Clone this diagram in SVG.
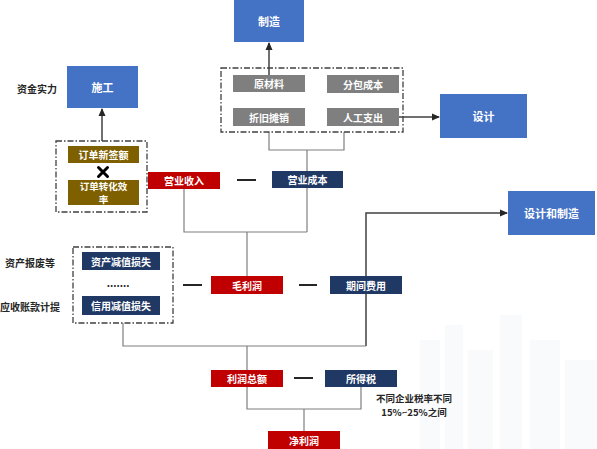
<svg xmlns="http://www.w3.org/2000/svg" width="597" height="449" viewBox="0 0 597 449">
<defs>
<marker id="arr" markerWidth="8" markerHeight="8" refX="7" refY="4" orient="auto" markerUnits="userSpaceOnUse">
<path d="M0,0.5 L8,4 L0,7.5 Z" fill="#262626"/>
</marker>
<style>
text{font-family:"Noto Sans CJK SC","Noto Sans",sans-serif;font-weight:bold;}
.lbl{fill:#ffffff;font-size:10px;text-anchor:middle;dominant-baseline:central;}
.sm{fill:#ffffff;font-size:9.5px;text-anchor:middle;dominant-baseline:central;}
.big{fill:#ffffff;font-size:11px;text-anchor:middle;dominant-baseline:central;}
.side{fill:#262626;font-size:10px;dominant-baseline:central;}
.note{fill:#262626;font-size:9.5px;text-anchor:middle;dominant-baseline:central;}
.blue{fill:#4472C4;}
.red{fill:#C00000;}
.navy{fill:#1F3864;}
.gray{fill:#7F7F7F;}
.gold{fill:#7F6000;}
.dash{fill:none;stroke:#404040;stroke-width:1.3;stroke-dasharray:6 2 1.5 2;}
.ln{fill:none;stroke:#7F7F7F;stroke-width:1.2;}
.ar{fill:none;stroke:#404040;stroke-width:1.5;marker-end:url(#arr);}
.minus{stroke:#262626;stroke-width:2;}
.bg{fill:#EEF1F5;}
</style>
</defs>
<g id="background" opacity="0.35">
<rect class="bg" x="420" y="340" width="20" height="109"/>
<rect class="bg" x="445" y="325" width="18" height="124"/>
<rect class="bg" x="468" y="350" width="25" height="99"/>
<rect class="bg" x="500" y="315" width="22" height="134"/>
<rect class="bg" x="530" y="340" width="30" height="109"/>
<rect class="bg" x="565" y="360" width="32" height="89"/>
</g>
<g id="connectors">
<path class="ar" d="M102,141 L102,109"/>
<path class="ar" d="M269,75 L269,43"/>
<path class="ar" d="M399,117 L439,117"/>
<path class="ln" d="M269,132 L269,150 L344,150 L344,132"/>
<path class="ln" d="M307,150 L307,232"/>
<path class="ln" d="M184,189 L184,232 L307,232"/>
<path class="ln" d="M247,232 L247,276"/>
<path class="ar" d="M366,346 L366,213 L507,213"/>
<path class="ln" d="M123,323 L123,346 L366,346"/>
<path class="ln" d="M247,346 L247,370"/>
<path class="ln" d="M247,387 L247,409 L361,409 L361,387"/>
<path class="ln" d="M304,409 L304,431"/>
<line class="minus" x1="237" y1="180" x2="256" y2="180"/>
<line class="minus" x1="183" y1="285" x2="202" y2="285"/>
<line class="minus" x1="299" y1="285" x2="317" y2="285"/>
<line class="minus" x1="294" y1="378" x2="313" y2="378"/>
</g>
<g id="zhizao"><rect class="blue" x="234" y="0" width="70" height="42"/><text class="big" x="269" y="21">制造</text></g>
<g id="shigong"><rect class="blue" x="67" y="66" width="71" height="42"/><text class="big" x="102.5" y="87">施工</text></g>
<g id="zijin"><text class="side" x="17" y="88">资金实力</text></g>
<g id="sheji"><rect class="blue" x="440" y="94" width="87" height="44"/><text class="big" x="483.5" y="116">设计</text></g>
<g id="shejizhizao"><rect class="blue" x="508" y="191" width="87" height="44"/><text class="big" x="551.5" y="213">设计和制造</text></g>
<g id="costgroup">
<rect class="dash" x="221" y="68" width="182" height="64"/>
<g id="yuancailiao"><rect class="gray" x="233" y="75" width="72" height="17"/><text class="lbl" x="269" y="83.5">原材料</text></g>
<g id="fenbao"><rect class="gray" x="327" y="75" width="72" height="18"/><text class="lbl" x="363" y="84">分包成本</text></g>
<g id="zhejiu"><rect class="gray" x="233" y="108" width="72" height="18"/><text class="lbl" x="269" y="117">折旧摊销</text></g>
<g id="rengong"><rect class="gray" x="327" y="108" width="72" height="18"/><text class="lbl" x="363" y="117">人工支出</text></g>
</g>
<g id="ordergroup">
<rect class="dash" x="56" y="141" width="91" height="71"/>
<g id="xinqian"><rect class="gold" x="68" y="146" width="71" height="17"/><text class="lbl" x="103.5" y="154.5">订单新签额</text></g>
<g id="times"><path d="M98.5,167.5 L107.5,176.5 M107.5,167.5 L98.5,176.5" stroke="#000" stroke-width="3" stroke-linecap="round"/></g>
<g id="zhuanhua"><rect class="gold" x="68" y="180" width="71" height="25"/><text class="sm" x="103.5" y="186.2">订单转化效</text><text class="sm" x="103.5" y="199.2">率</text></g>
</g>
<g id="yingyeshouru"><rect class="red" x="148" y="172" width="72" height="17"/><text class="lbl" x="184" y="180.5">营业收入</text></g>
<g id="yingyechengben"><rect class="navy" x="272" y="171" width="71" height="17"/><text class="lbl" x="307.5" y="179.5">营业成本</text></g>
<g id="impairgroup">
<rect class="dash" x="73" y="247" width="100" height="76"/>
<g id="zichanjianzhi"><rect class="navy" x="82" y="252" width="78" height="18"/><text class="lbl" x="121" y="261">资产减值损失</text></g>
<text x="118" y="282" style="font-size:10px;fill:#262626;text-anchor:middle;dominant-baseline:central;">.......</text>
<g id="xinyongjianzhi"><rect class="navy" x="82" y="296" width="78" height="19"/><text class="lbl" x="121" y="305.5">信用减值损失</text></g>
</g>
<g id="baofei"><text class="side" x="5" y="262">资产报废等</text></g>
<g id="yingshou"><text class="side" x="0" y="306">应收账款计提</text></g>
<g id="maolirun"><rect class="red" x="211" y="276" width="72" height="18"/><text class="lbl" x="247" y="285">毛利润</text></g>
<g id="qijianfeiyong"><rect class="navy" x="330" y="276" width="72" height="18"/><text class="lbl" x="366" y="285">期间费用</text></g>
<g id="lirunzonge"><rect class="red" x="211" y="370" width="72" height="17"/><text class="lbl" x="247" y="378.5">利润总额</text></g>
<g id="suodeshui"><rect class="navy" x="325" y="370" width="72" height="17"/><text class="lbl" x="361" y="378.5">所得税</text></g>
<g id="note"><text class="note" x="414" y="398">不同企业税率不同</text><text class="note" x="414" y="411.5">15%~25%之间</text></g>
<g id="jinglirun"><rect class="red" x="268" y="431" width="72" height="18"/><text class="lbl" x="304" y="440">净利润</text></g>
</svg>
